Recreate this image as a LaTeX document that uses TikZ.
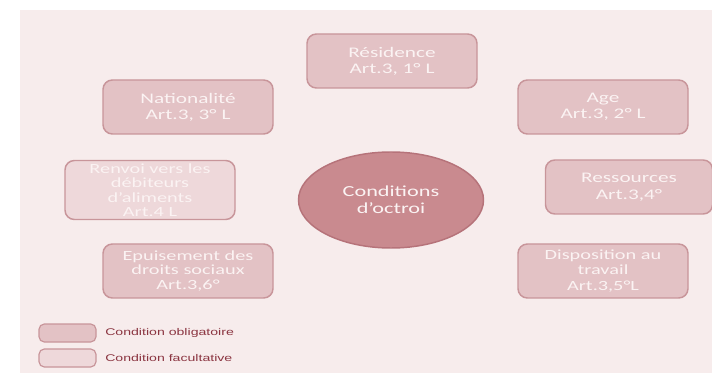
\documentclass[tikz,border=0pt]{standalone}
\usepackage{fontspec}
\setmainfont{Carlito}[FakeStretch=1.45]
\newfontfamily\legendfont{Liberation Sans}[FakeStretch=1.45]
\usetikzlibrary{shapes.geometric}

\definecolor{pagebg}{HTML}{F7ECEC}
\definecolor{mustfill}{HTML}{E3C2C5}
\definecolor{mustline}{HTML}{C8959A}
\definecolor{mayfill}{HTML}{EED8DA}
\definecolor{hubfill}{HTML}{C98A8F}
\definecolor{hubline}{HTML}{B6737A}
\definecolor{boxtext}{HTML}{FBF3F3}
\definecolor{legendtext}{HTML}{8B3541}

\tikzset{
	condbox/.style={draw=mustline, line width=1.1pt, fill=mustfill, rounded corners=7pt,
		minimum width=127.5pt, minimum height=40.5pt, inner sep=1pt, align=center,
		text=boxtext, font=\fontsize{11}{12}\selectfont},
	tallbox/.style={condbox, font=\fontsize{10.5}{10.9}\selectfont},
	optbox/.style={tallbox, fill=mayfill, minimum height=44.25pt},
	hub/.style={ellipse, draw=hubline, line width=1.1pt, fill=hubfill, inner sep=0pt,
		minimum width=138.75pt, minimum height=72pt, align=center,
		text=boxtext, font=\fontsize{11.5}{13}\selectfont},
	keybox/.style={draw=mustline, line width=0.9pt, rounded corners=4pt,
		minimum width=42.75pt, minimum height=13.5pt, inner sep=0pt},
	keytext/.style={anchor=west, inner sep=0pt, text=legendtext,
		font=\legendfont\fontsize{7.3}{8}\selectfont}
}

\begin{document}
\begin{tikzpicture}[x=0.75pt, y=-0.75pt]
	%%%%% START %%%%%
	
	\useasboundingbox (0, 0) rectangle (712, 373);
	\fill[white] (0, 0) rectangle (712, 373);
	\fill[pagebg] (20, 10) rectangle (712, 373);
	
	% centre
	\node[hub] (octroi) at (391, 200) {Conditions\\d’octroi};
	
	% conditions
	\node[condbox] (residence) at (392, 61) {Résidence\\Art.3, 1° L};
	\node[condbox] (nationalite) at (188, 107) {Nationalité\\Art.3, 3° L};
	\node[condbox] (age) at (603, 107) {Age\\Art.3, 2° L};
	\node[optbox] (renvoi) at (150, 190) {Renvoi vers les\\débiteurs\\d’aliments\\Art.4 L};
	\node[condbox, minimum width=125.25pt, font=\fontsize{11}{12.75}\selectfont] (ressources) at (629, 187) {Ressources\\Art.3,4°};
	\node[tallbox] (epuisement) at (188, 271) {Epuisement des\\droits sociaux\\Art.3,6°};
	\node[tallbox, font=\fontsize{10.5}{11.6}\selectfont] (disposition) at (603, 271) {Disposition au\\travail\\Art.3,5°L};
	
	% legend
	\node[keybox, fill=mustfill] (keymust) at (67.5, 333) {};
	\node[keybox, fill=mayfill] (keymay) at (67.5, 358) {};
	\node[keytext] (keymusttext) at (105, 333) {Condition obligatoire};
	\node[keytext] (keymaytext) at (105, 358) {Condition facultative};
	
	%%%%% END %%%%%
\end{tikzpicture}
\end{document}
